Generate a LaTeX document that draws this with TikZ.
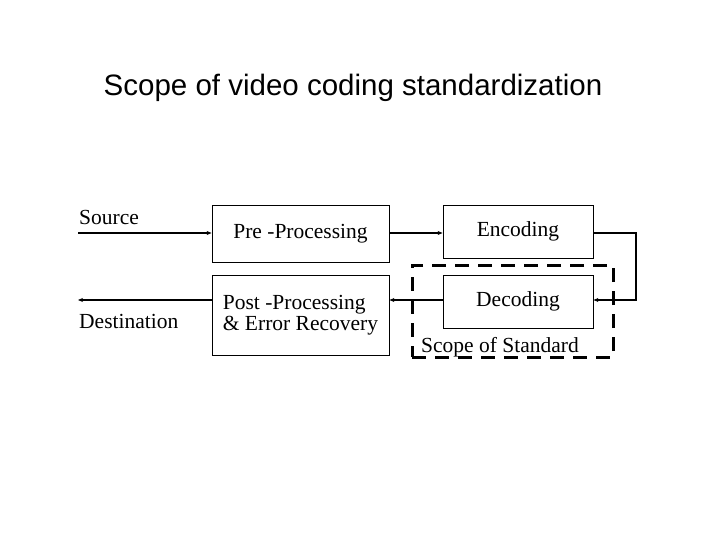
\documentclass[tikz,border=0pt]{standalone}
\usetikzlibrary{arrows.meta}
\usepackage{fontspec}
\setmainfont{Liberation Serif}
\newfontfamily\titlefont{Liberation Sans}
\begin{document}
\begin{tikzpicture}[x=1pt,y=-1pt,
  blk/.style={draw,line width=0.8pt,inner sep=0pt,font=\fontsize{21.5}{22}\selectfont},
  lbl/.style={font=\fontsize{21.5}{22}\selectfont,inner sep=0pt,anchor=west},
  arr/.style={line width=1.8pt,-{Stealth[length=5pt,width=4pt]}}]
\useasboundingbox (0,0) rectangle (720,540);
\node[font=\titlefont\fontsize{29.5}{32}\selectfont] (title) at (353,88) {Scope of video coding standardization};
\node[blk,minimum width=177pt,minimum height=57pt] (pre) at (300.5,233.5) {Pre -Processing};
\node[blk,minimum width=150pt,minimum height=53pt] (enc) at (518,231.5) {Encoding};
\node[blk,minimum width=177pt,minimum height=80pt,align=left] (post) at (300.5,315) {Post -Processing\\[-1pt]\& Error Recovery};
\node[blk,minimum width=150pt,minimum height=53pt] (dec) at (518,301.5) {Decoding};
\node[draw,line width=3pt,dash pattern=on 14pt off 9pt,minimum width=201pt,minimum height=92pt,inner sep=0pt] (scope) at (512.5,311) {};
\node[lbl] (scl) at (421,347) {Scope of Standard};
\node[lbl] (src) at (79,217) {Source};
\node[lbl] (dst) at (79,321) {Destination};
\coordinate (in) at (78,233);
\coordinate (out) at (78,300);
\coordinate (c1) at (636,233);
\coordinate (c2) at (636,300);
\draw[arr] (in) -- (pre.west|-in);
\draw[arr] (pre.east|-in) -- (enc.west|-in);
\draw[arr] (enc.east|-in) -- (c1) -- (c2) -- (dec.east|-c2);
\draw[arr] (dec.west|-c2) -- (post.east|-c2);
\draw[arr] (post.west|-c2) -- (out);
\end{tikzpicture}
\end{document}
